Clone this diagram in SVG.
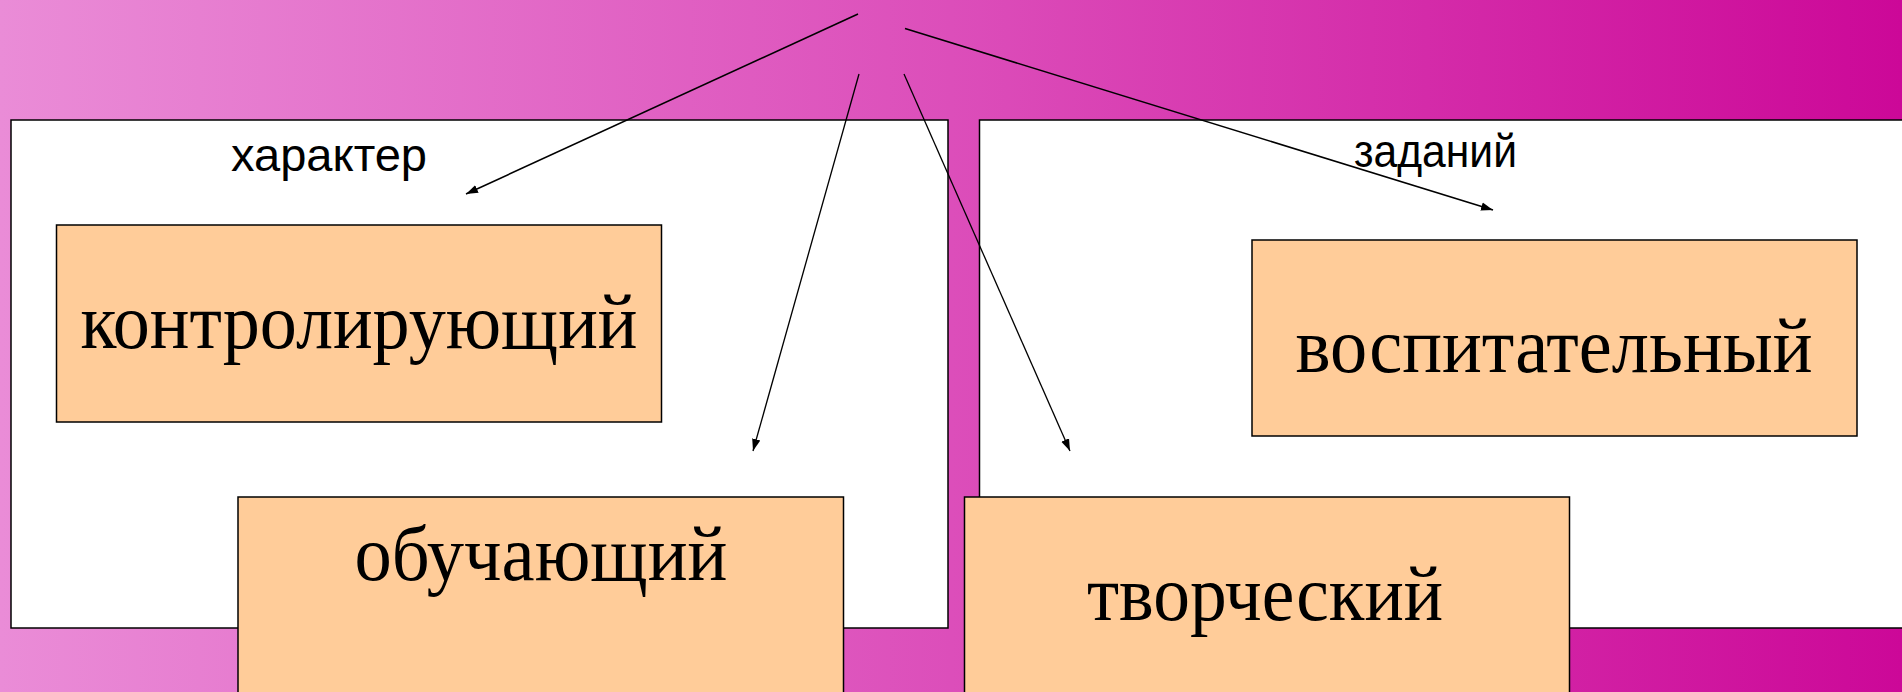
<svg xmlns="http://www.w3.org/2000/svg" width="1902" height="692" viewBox="0 0 1902 692">
  <defs>
    <linearGradient id="bg" x1="0" y1="0" x2="1" y2="0">
      <stop offset="0" stop-color="#EA8CD7"/>
      <stop offset="0.5" stop-color="#DC4EBA"/>
      <stop offset="1" stop-color="#CC0898"/>
    </linearGradient>
    <marker id="arrL" viewBox="0 0 10 10" refX="10" refY="5" markerWidth="12" markerHeight="12" markerUnits="userSpaceOnUse" orient="auto">
      <path d="M0,1.5 L10,5 L0,8.5 Z" fill="#000"/>
    </marker>
  </defs>
  <style>
    .panel { fill: #FFFFFF; stroke: #000; stroke-width: 1.5; }
    .box { fill: #FFCC99; stroke: #000; stroke-width: 1.5; }
    .lbl { font-family: "Liberation Sans", Arial, sans-serif; font-size: 46px; fill: #000; }
    .big { font-family: "Liberation Serif", "Times New Roman", serif; font-size: 79px; fill: #000; text-anchor: middle; }
    .conn line { stroke: #000; fill: none; marker-end: url(#arrL); }
  </style>
  <rect x="0" y="0" width="1902" height="692" fill="url(#bg)"/>
  <g id="panel-left">
    <rect class="panel" x="11" y="120" width="937" height="508"/>
    <text class="lbl" x="231" y="171" textLength="196" lengthAdjust="spacingAndGlyphs">характер</text>
  </g>
  <g id="panel-right">
    <rect class="panel" x="979.5" y="120" width="930" height="508"/>
    <text class="lbl" x="1354" y="167" textLength="163" lengthAdjust="spacingAndGlyphs">заданий</text>
  </g>
  <g id="node-kontrol">
    <rect class="box" x="56.5" y="225" width="605" height="197"/>
    <text class="big" x="359" y="348" textLength="557" lengthAdjust="spacingAndGlyphs">контролирующий</text>
  </g>
  <g id="node-vospit">
    <rect class="box" x="1252" y="240" width="605" height="196"/>
    <text class="big" x="1554" y="372" textLength="517" lengthAdjust="spacingAndGlyphs">воспитательный</text>
  </g>
  <g id="node-obuch">
    <rect class="box" x="238" y="497" width="605.5" height="210"/>
    <text class="big" x="541" y="580" textLength="373" lengthAdjust="spacingAndGlyphs">обучающий</text>
  </g>
  <g id="node-tvorch">
    <rect class="box" x="964.5" y="497" width="605" height="210"/>
    <text class="big" x="1265" y="620" textLength="356" lengthAdjust="spacingAndGlyphs">творческий</text>
  </g>
  <g id="connectors" class="conn">
    <line x1="858" y1="14" x2="466" y2="194" stroke-width="1.6"/>
    <line x1="905" y1="28.5" x2="1493" y2="210" stroke-width="1.6"/>
    <line x1="859" y1="74" x2="753" y2="451" stroke-width="1.3"/>
    <line x1="904" y1="74" x2="1070" y2="451" stroke-width="1.3"/>
  </g>
</svg>
